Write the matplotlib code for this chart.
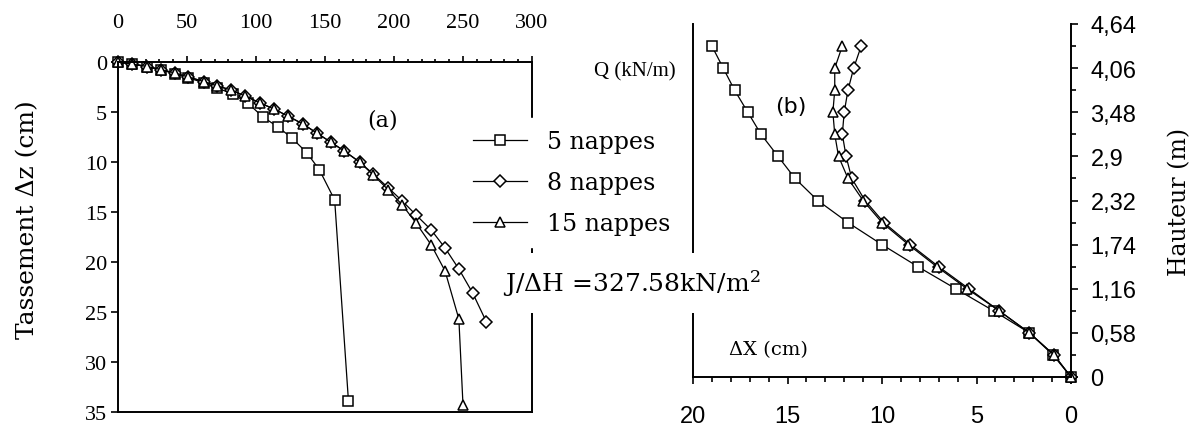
# Tassement et déplacement horizontal - 5, 8 et 15 nappes

import matplotlib.pyplot as plt
import numpy as np

plt.rcParams['font.family'] = ['DejaVu Serif']
plt.rcParams['mathtext.fontset'] = 'dejavuserif'

# (a) charge Q (kN/m) / tassement dz (cm)
q5 = [0, 10, 21, 31, 41, 51, 62, 72, 83, 94, 105, 116, 126, 137, 146, 157, 167]
dz5 = [0, 0.2, 0.45, 0.8, 1.15, 1.6, 2.05, 2.6, 3.2, 4.1, 5.5, 6.5, 7.6, 9.1, 10.8, 13.8, 33.9]

q8 = [0, 10, 21, 31, 41, 51, 62, 72, 82, 92, 103, 113, 123, 134, 144, 154, 164, 175,
      185, 196, 206, 216, 227, 237, 247, 257, 267]
dz8 = [0, 0.2, 0.45, 0.75, 1.1, 1.5, 1.95, 2.4, 2.8, 3.4, 4.1, 4.7, 5.4, 6.2, 7.1, 8.0,
       8.9, 10.0, 11.2, 12.6, 13.9, 15.3, 16.8, 18.6, 20.7, 23.1, 26.0]

q15 = [0, 10, 21, 31, 41, 51, 62, 72, 82, 92, 103, 113, 123, 134, 144, 154, 164, 175,
       185, 196, 206, 216, 227, 237, 247, 250]
dz15 = [0, 0.2, 0.45, 0.75, 1.1, 1.5, 1.95, 2.4, 2.8, 3.4, 4.1, 4.7, 5.4, 6.2, 7.1, 8.0,
        8.9, 10.0, 11.3, 12.8, 14.3, 16.1, 18.3, 20.9, 25.7, 34.3]

# (b) hauteur (m) / deplacement dX (cm)
hauteur = [0, 0.29, 0.58, 0.87, 1.16, 1.45, 1.74, 2.03, 2.32, 2.61, 2.90, 3.19, 3.48,
           3.77, 4.06, 4.35]
dx5 = [0, 0.95, 2.2, 4.1, 6.1, 8.1, 10.0, 11.8, 13.4, 14.6, 15.5, 16.4, 17.1, 17.8, 18.4, 19.0]
dx8 = [0, 0.9, 2.2, 3.8, 5.4, 7.0, 8.5, 9.9, 10.9, 11.6, 11.9, 12.1, 12.0, 11.8, 11.5, 11.1]
dx15 = [0, 0.9, 2.2, 3.8, 5.5, 7.1, 8.6, 10.0, 11.0, 11.8, 12.3, 12.5, 12.6, 12.5, 12.5, 12.1]

h_ticks = [0, 0.58, 1.16, 1.74, 2.32, 2.9, 3.48, 4.06, 4.64]
h_labels = ['0', '0,58', '1,16', '1,74', '2,32', '2,9', '3,48', '4,06', '4,64']

W, H = 1203, 427


def fx(p):
    return p / W


def fy(p):
    return 1 - p / H


fig = plt.figure(figsize=(W / 100, H / 100), dpi=100)
ax1 = fig.add_axes([fx(118), fy(413), fx(532 - 118), (413 - 63) / H])
ax2 = fig.add_axes([fx(693), fy(378), fx(1071 - 693), (378 - 25) / H])
ax2.patch.set_visible(False)

style = dict(color='black', mfc='white', mec='black', lw=0.9, mew=1.1, clip_on=False)

# ---- (a)
ax1.plot(q5, dz5, marker='s', ms=7, label='5 nappes', **style)
ax1.plot(q8, dz8, marker='D', ms=6.3, label='8 nappes', **style)
ax1.plot(q15, dz15, marker='^', ms=7.5, label='15 nappes', **style)

ax1.set_xlim(0, 300)
ax1.set_ylim(35, 0)
ax1.xaxis.tick_top()
ax1.set_xticks(np.arange(0, 301, 50))
ax1.set_xticks(np.arange(0, 301, 10), minor=True)
ax1.set_yticks(np.arange(0, 36, 5))
ax1.tick_params(axis='x', which='major', direction='out', length=4.5, width=1.2, pad=17,
                labelsize=16, labelfontfamily='Liberation Serif')
ax1.tick_params(axis='x', which='minor', direction='out', length=2.5, width=1.2)
ax1.tick_params(axis='y', which='major', direction='out', length=5, width=1.2, pad=3,
                labelsize=16, labelfontfamily='Liberation Serif')
for s in ax1.spines.values():
    s.set_linewidth(1.4)

ax1.legend(loc='upper left', bbox_to_anchor=(fx(461), fy(119)), bbox_transform=fig.transFigure,
           fontsize=17, frameon=True, fancybox=False, framealpha=1, edgecolor='white',
           facecolor='white', handlelength=2.3, handletextpad=0.85, labelspacing=0.77,
           borderpad=0.5, borderaxespad=0)

# ---- (b)
ax2.plot(dx5, hauteur, marker='s', ms=7, **style)
ax2.plot(dx8, hauteur, marker='D', ms=6.3, **style)
ax2.plot(dx15, hauteur, marker='^', ms=7.5, **style)

ax2.set_xlim(20, 0)
ax2.set_ylim(0, 4.64)
ax2.yaxis.tick_right()
ax2.spines['top'].set_visible(False)
for s in ['left', 'right', 'bottom']:
    ax2.spines[s].set_linewidth(1.4)
ax2.set_xticks(np.arange(0, 21, 5))
ax2.set_xticks(np.arange(0, 21, 1), minor=True)
ax2.set_yticks(h_ticks)
ax2.set_yticklabels(h_labels)
ax2.set_yticks(np.array(h_ticks[:-1]) + 0.29, minor=True)
ax2.tick_params(which='major', direction='out', length=5, width=1.2, labelsize=17,
                labelfontfamily='Liberation Sans')
ax2.tick_params(which='minor', direction='out', length=3.5, width=1.2)
ax2.tick_params(axis='x', which='major', pad=15)
ax2.tick_params(axis='y', which='major', pad=9)

# ---- textes
fig.text(fx(28), fy(220), 'Tassement \u0394z (cm)', rotation=90, ha='center', va='center', fontsize=18)
fig.text(fx(1180), fy(202), 'Hauteur (m)', rotation=90, ha='center', va='center', fontsize=17)
fig.text(fx(635), fy(72), 'Q (kN/m)', ha='center', va='center', fontsize=15, family='Liberation Serif')
fig.text(fx(383), fy(121), '(a)', ha='center', va='center', fontsize=16)
fig.text(fx(791), fy(107), '(b)', ha='center', va='center', fontsize=16, family='DejaVu Sans')
fig.text(fx(768), fy(350), '\u0394X (cm)', ha='center', va='center', fontsize=14)
fig.text(fx(503), fy(284), 'J/\u0394H =327.58kN/m$^2$', ha='left', va='center', fontsize=18,
         bbox=dict(boxstyle='square,pad=0.6', fc='white', ec='none'))

plt.savefig('out.png', dpi=100)
